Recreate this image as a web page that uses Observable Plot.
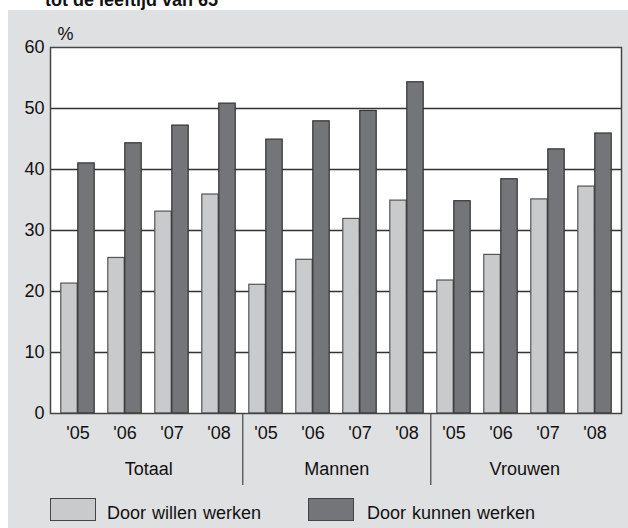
<!DOCTYPE html>
<html>
<head>
<meta charset="utf-8">
<script src="https://cdn.jsdelivr.net/npm/d3@7"></script>
<script src="https://cdn.jsdelivr.net/npm/@observablehq/plot@0.6"></script>
<style>
  html, body { margin: 0; padding: 0; background: #ffffff; }
  body { width: 628px; height: 528px; overflow: hidden; font-family: "Liberation Sans", Arial, Helvetica, sans-serif; }
  #title { height: 10px; overflow: hidden; position: relative; }
  #title div { position: absolute; left: 45px; top: -9px; font-size: 18px; font-weight: bold; line-height: 18px; white-space: nowrap; color: #111; }
  #wrap { position: relative; margin-left: 8px; width: 620px; height: 518px; background: #dfe0e1; }
  #chart svg { display: block; }
  .sw { position: absolute; top: 488px; width: 46px; height: 23px; box-sizing: border-box; border: 1.5px solid #444; }
  .lt { position: absolute; top: 492px; font-size: 18px; line-height: 22px; color: #111; white-space: nowrap; word-spacing: 1px; }
</style>
</head>
<body>
<div id="title"><div>tot de leeftijd van 65</div></div>
<div id="wrap">
  <div id="chart"></div>
  <div class="sw" style="left:42px;background:#c9cacc"></div>
  <div class="lt" style="left:99px">Door willen werken</div>
  <div class="sw" style="left:300px;background:#747579"></div>
  <div class="lt" style="left:359px">Door kunnen werken</div>
</div>
<script>
const groups = ["Totaal", "Mannen", "Vrouwen"];
const years = ["'05", "'06", "'07", "'08"];
const willen = [21.3, 25.5, 33.1, 35.9, 21.1, 25.2, 31.9, 34.9, 21.8, 26.0, 35.1, 37.2];
const kunnen = [41.0, 44.3, 47.2, 50.8, 44.9, 47.9, 49.6, 54.3, 34.8, 38.4, 43.3, 45.9];
const yTicks = [0, 10, 20, 30, 40, 50, 60];
const gridValues = [10, 20, 30, 40, 50];

const keys = [];
groups.forEach(g => years.forEach(y => keys.push(g + "|" + y)));
const rowsW = keys.map((k, i) => ({key: k, value: willen[i]}));
const rowsK = keys.map((k, i) => ({key: k, value: kunnen[i]}));
const boundaries = groups.slice(0, -1).map(g => g + "|" + years[years.length - 1]);
const middles = groups.map(g => ({key: g + "|" + years[1], label: g}));

const W = 620, H = 475, mL = 42, mR = 7, mT = 37, mB = 72;
const bw = (W - mL - mR) / keys.length;
const barW = 17;
const side = (bw - 2 * barW) / 2;

const chart = Plot.plot({
  width: W,
  height: H,
  marginLeft: mL,
  marginRight: mR,
  marginTop: mT,
  marginBottom: mB,
  style: {background: "transparent", fontFamily: "'Liberation Sans', Arial, Helvetica, sans-serif", fontSize: "18px", color: "#111"},
  x: {domain: keys, padding: 0, axis: null},
  y: {domain: [0, 60], axis: null},
  marks: [
    Plot.frame({fill: "#ffffff", stroke: "none"}),
    Plot.ruleY(gridValues, {stroke: "#333", strokeWidth: 1.3}),
    Plot.barY(rowsW, {x: "key", y: "value", fill: "#c9cacc", stroke: "#555", strokeWidth: 1.2, insetLeft: side, insetRight: side + barW}),
    Plot.barY(rowsK, {x: "key", y: "value", fill: "#747579", stroke: "#333", strokeWidth: 1.2, insetLeft: side + barW, insetRight: side}),
    Plot.frame({stroke: "#444", strokeWidth: 1.5}),
    Plot.axisY({ticks: yTicks, tickSize: 0, tickPadding: 6, label: null, fontSize: 18}),
    Plot.axisX({tickSize: 0, tickPadding: 13, label: null, fontSize: 18, tickFormat: k => k.split("|")[1]}),
    Plot.text(["%"], {frameAnchor: "top-left", dx: 7, dy: -20, fontSize: 18}),
    Plot.ruleX(boundaries, {x: d => d, dx: bw / 2, y1: 0, y2: 0, insetBottom: -72, stroke: "#444", strokeWidth: 1.2}),
    Plot.text(middles, {x: "key", text: "label", y: 0, dx: bw / 2, dy: 49, lineAnchor: "top", fontSize: 18})
  ]
});
document.getElementById("chart").appendChild(chart);
</script>
</body>
</html>
